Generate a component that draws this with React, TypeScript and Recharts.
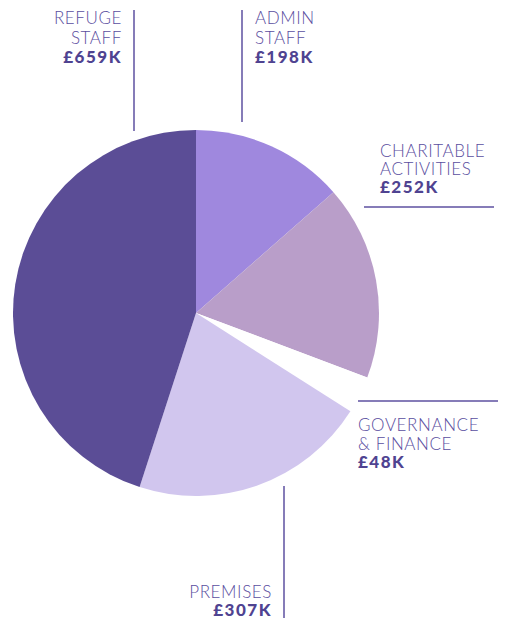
import React from 'react';
import { PieChart, Pie, Cell } from 'recharts';

const categoryLines: string[][] = [
  ['ADMIN', 'STAFF'],
  ['CHARITABLE', 'ACTIVITIES'],
  ['GOVERNANCE', '& FINANCE'],
  ['PREMISES'],
  ['REFUGE', 'STAFF'],
];
const values = [198, 252, 48, 307, 659];
const colors = ['#9f88de', '#b99ec9', '#ffffff', '#d1c6ee', '#5b4d96'];

const data = values.map((v, i) => ({ name: categoryLines[i].join(' '), value: v }));

type Layout = {
  anchor: 'start' | 'end';
  tx: number;
  base: number;
  gap: number;
  line: [number, number, number, number];
};

const layouts: Layout[] = [
  { anchor: 'start', tx: 255, base: 24, gap: 19.5, line: [242, 10, 242, 122] },
  { anchor: 'start', tx: 380, base: 157, gap: 18, line: [364, 207, 494, 207] },
  { anchor: 'start', tx: 358, base: 431, gap: 18.5, line: [358, 401, 498, 401] },
  { anchor: 'end', tx: 272, base: 598, gap: 18, line: [284, 486, 284, 618] },
  { anchor: 'end', tx: 122, base: 24, gap: 19.5, line: [134, 10, 134, 131] },
];

const FONT = 'Lato, "Open Sans", sans-serif';

const renderLabel = (props: any) => {
  const { index, value } = props;
  const L = layouts[index];
  const lines: string[] = categoryLines[index];
  return (
    <g key={`lbl-${index}`}>
      <line x1={L.line[0]} y1={L.line[1]} x2={L.line[2]} y2={L.line[3]} stroke="#5e51a0" strokeWidth={1.5} />
      {lines.map((t, j) => (
        <text
          key={j}
          x={L.tx}
          y={L.base + j * L.gap}
          textAnchor={L.anchor}
          fill="#5a4ea0"
          fontFamily={FONT}
          fontSize={17}
          fontWeight={300}
          letterSpacing={0.6}
        >
          {t}
        </text>
      ))}
      <text
        x={L.tx}
        y={L.base + lines.length * L.gap}
        textAnchor={L.anchor}
        fill="#4f4391"
        fontFamily={FONT}
        fontSize={17}
        fontWeight={900}
        letterSpacing={1.5}
      >
        {`£${value}K`}
      </text>
    </g>
  );
};

export default function App() {
  return (
    <div style={{ position: 'absolute', left: 0, top: 0, background: '#fff' }}>
      <PieChart width={506} height={621} margin={{ top: 0, right: 0, bottom: 0, left: 0 }}>
        <Pie
          data={data}
          dataKey="value"
          nameKey="name"
          cx={196}
          cy={313}
          outerRadius={183}
          innerRadius={0}
          startAngle={90}
          endAngle={-270}
          stroke="none"
          label={renderLabel}
          labelLine={false}
          isAnimationActive={false}
        >
          {data.map((d, i) => (
            <Cell key={d.name} fill={colors[i]} stroke="none" />
          ))}
        </Pie>
      </PieChart>
    </div>
  );
}
